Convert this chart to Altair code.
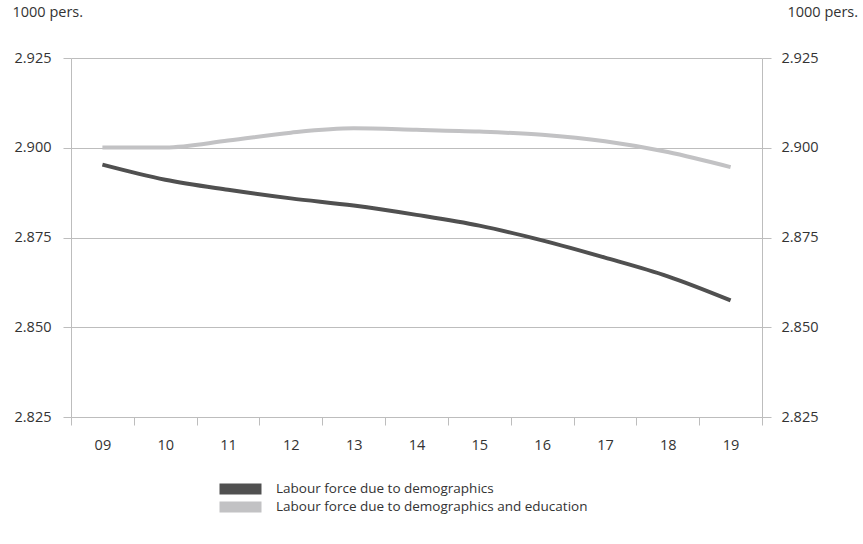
import altair as alt
import pandas as pd

years = ["09", "10", "11", "12", "13", "14", "15", "16", "17", "18", "19"]
demo = [2.8953, 2.8911, 2.8883, 2.8859, 2.8839, 2.8813, 2.8783, 2.8742, 2.8694, 2.8642, 2.8575]
demo_edu = [2.9001, 2.9001, 2.9020, 2.9042, 2.9054, 2.9050, 2.9045, 2.9036, 2.9018, 2.8988, 2.8946]
series = ["Labour force due to demographics",
          "Labour force due to demographics and education"]
colors = ["#505050", "#c2c2c4"]
y_ticks = [2.825, 2.85, 2.875, 2.9, 2.925]

rows = []
for i, yr in enumerate(years):
    rows.append({"year": yr, "value": demo[i], "series": series[0]})
    rows.append({"year": yr, "value": demo_edu[i], "series": series[1]})
df = pd.DataFrame(rows)

FONT = "Open Sans"
AX = "#bdbdbd"
LBL = "#333333"
FS = 14.5

x = alt.X("year:O", sort=years,
          scale=alt.Scale(paddingInner=0, paddingOuter=0),
          axis=alt.Axis(title=None, labelAngle=0, tickBand="extent", tickSize=8,
                        tickColor=AX, domainColor=AX, labelPadding=13,
                        labelFont=FONT, labelFontSize=FS, labelColor=LBL,
                        grid=False))

yscale = alt.Scale(domain=[2.825, 2.925], zero=False, nice=False)

left = alt.Chart(df).mark_line(strokeWidth=4, interpolate="monotone").encode(
    x=x,
    y=alt.Y("value:Q", scale=yscale,
            axis=alt.Axis(values=y_ticks, format=".3f", title="1000 pers.",
                          titleAngle=0, titleX=-59, titleY=-39, titleAlign="left",
                          titleFont=FONT, titleFontSize=FS, titleFontWeight="normal",
                          titleColor=LBL, tickSize=8, tickColor=AX, domainColor=AX,
                          gridColor=AX, labelPadding=12, labelFont=FONT,
                          labelFontSize=FS, labelColor=LBL)),
    color=alt.Color("series:N", sort=series,
                    scale=alt.Scale(domain=series, range=colors),
                    legend=alt.Legend(title=None, orient="none", legendX=143, legendY=423,
                                      symbolType="M-1,0H1", symbolSize=1764,
                                      symbolStrokeWidth=11, labelFont=FONT,
                                      labelFontSize=13.5, labelColor=LBL,
                                      labelOffset=9, rowPadding=2, clipHeight=16,
                                      labelLimit=500, symbolLimit=0)),
)

right = alt.Chart(df).mark_line(strokeWidth=4, strokeOpacity=0).encode(
    x=x,
    y=alt.Y("value:Q", scale=yscale,
            axis=alt.Axis(orient="right", values=y_ticks, format=".3f", title="1000 pers.",
                          titleAngle=0, titleX=25, titleY=-39, titleAlign="left",
                          titleFont=FONT, titleFontSize=FS, titleFontWeight="normal",
                          titleColor=LBL, tickSize=9, tickColor=AX, domainColor=AX,
                          grid=False, labelPadding=10, labelFont=FONT,
                          labelFontSize=FS, labelColor=LBL)),
    detail="series:N",
)

chart = alt.layer(left, right).resolve_scale(y="independent").properties(
    width=691, height=359,
    autosize=alt.AutoSizeParams(type="none"),
    padding={"left": 71, "top": 58, "right": 101, "bottom": 127},
).configure_view(stroke=None)

chart.save("out.html", embed_options={"renderer": "svg", "actions": False})
